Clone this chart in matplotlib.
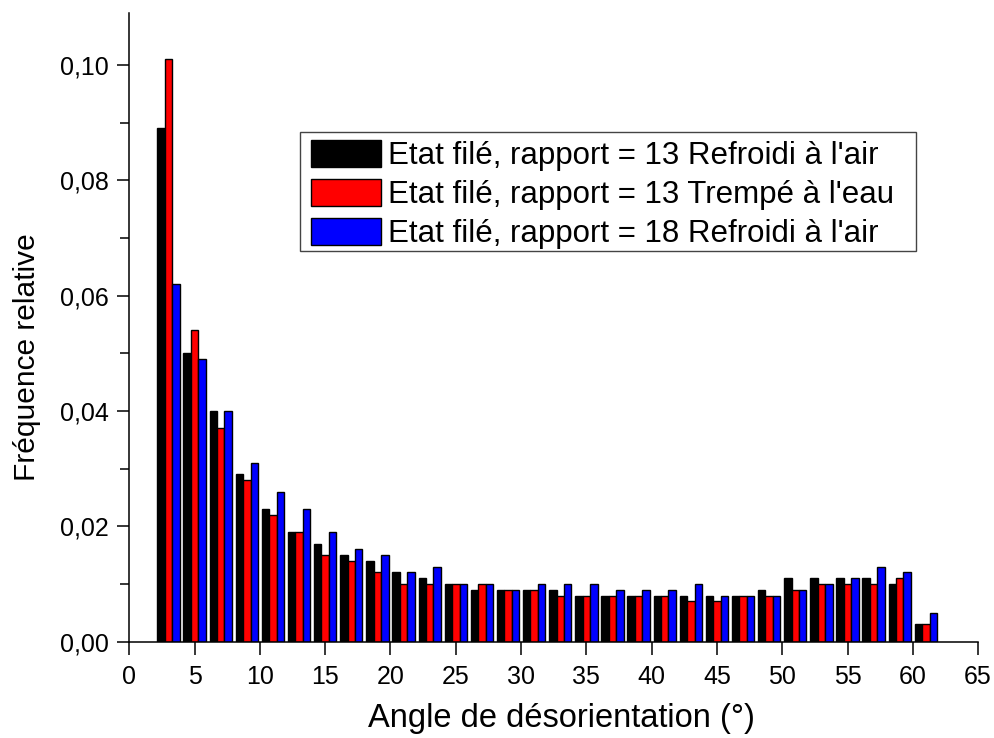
import numpy as np
import matplotlib
matplotlib.use("Agg")
import matplotlib.pyplot as plt
from matplotlib.patches import Rectangle
from matplotlib.ticker import MultipleLocator, FuncFormatter

# Misorientation angle classes (bin centres, degrees)
angles = [3, 5, 7, 9, 11, 13, 15, 17, 19, 21, 23, 25, 27, 29, 31,
          33, 35, 37, 39, 41, 43, 45, 47, 49, 51, 53, 55, 57, 59, 61]

# Relative frequencies for each sample
air_13 = [0.089, 0.050, 0.040, 0.029, 0.023, 0.019, 0.017, 0.015, 0.014, 0.012,
          0.011, 0.010, 0.009, 0.009, 0.009, 0.009, 0.008, 0.008, 0.008, 0.008,
          0.008, 0.008, 0.008, 0.009, 0.011, 0.011, 0.011, 0.011, 0.010, 0.003]
eau_13 = [0.101, 0.054, 0.037, 0.028, 0.022, 0.019, 0.015, 0.014, 0.012, 0.010,
          0.010, 0.010, 0.010, 0.009, 0.009, 0.008, 0.008, 0.008, 0.008, 0.008,
          0.007, 0.007, 0.008, 0.008, 0.009, 0.010, 0.010, 0.010, 0.011, 0.003]
air_18 = [0.062, 0.049, 0.040, 0.031, 0.026, 0.023, 0.019, 0.016, 0.015, 0.012,
          0.013, 0.010, 0.010, 0.009, 0.010, 0.010, 0.010, 0.009, 0.009, 0.009,
          0.010, 0.008, 0.008, 0.008, 0.009, 0.010, 0.011, 0.013, 0.012, 0.005]

labels = ["Etat filé, rapport = 13 Refroidi à l'air",
          "Etat filé, rapport = 13 Trempé à l'eau",
          "Etat filé, rapport = 18 Refroidi à l'air"]
colors = ["#000000", "#ff0000", "#0000ff"]

plt.rcParams["font.family"] = ["Liberation Sans", "DejaVu Sans"]

W, H = 995, 738
fig = plt.figure(figsize=(W / 100, H / 100), dpi=100)
ax = fig.add_axes([0.130, 0.1305, 0.853, 0.852])

x = np.array(angles, dtype=float)
w = 0.57
series = [air_13, eau_13, air_18]
for i, (vals, col, lab) in enumerate(zip(series, colors, labels)):
    ax.bar(x + (i - 1) * w, vals, width=w, color=col, edgecolor="black",
           linewidth=1.0, label=lab, zorder=2)

ax.set_xlim(0, 65)
ax.set_ylim(0, 0.109)
ax.xaxis.set_major_locator(MultipleLocator(5))
ax.yaxis.set_major_locator(MultipleLocator(0.02))
ax.yaxis.set_minor_locator(MultipleLocator(0.01))
ax.yaxis.set_major_formatter(FuncFormatter(lambda v, p: f"{v:.2f}".replace(".", ",")))

for side in ("top", "right"):
    ax.spines[side].set_visible(False)
for side in ("left", "bottom"):
    ax.spines[side].set_linewidth(1.1)

ax.tick_params(axis="both", which="major", direction="out", length=9,
               width=1.1, labelsize=18)
ax.tick_params(axis="x", which="major", pad=7.5)
ax.tick_params(axis="y", which="major", pad=5.5)
ax.tick_params(axis="y", which="minor", direction="out", length=6.5, width=1.1)

ax.set_xlabel("Angle de désorientation (°)", fontsize=23.5)
ax.xaxis.set_label_coords(0.509, -0.097)
ax.set_ylabel("Fréquence relative", fontsize=21.5)
ax.yaxis.set_label_coords(-0.104, 0.453)

# Legend: entries without matplotlib's frame, box drawn separately
leg = ax.legend(loc="upper left", bbox_to_anchor=(311 / W, 1 - 140 / H),
                bbox_transform=fig.transFigure, fontsize=22.5, frameon=False,
                handlelength=2.24, handleheight=0.95, labelspacing=0.25,
                borderpad=0, handletextpad=0.22, borderaxespad=0)
fig.patches.append(Rectangle((300 / W, 1 - 251 / H), 616 / W, 119 / H,
                             transform=fig.transFigure, fill=False,
                             edgecolor="#444444", linewidth=1.0, zorder=5))

fig.savefig("out.png", dpi=100)
